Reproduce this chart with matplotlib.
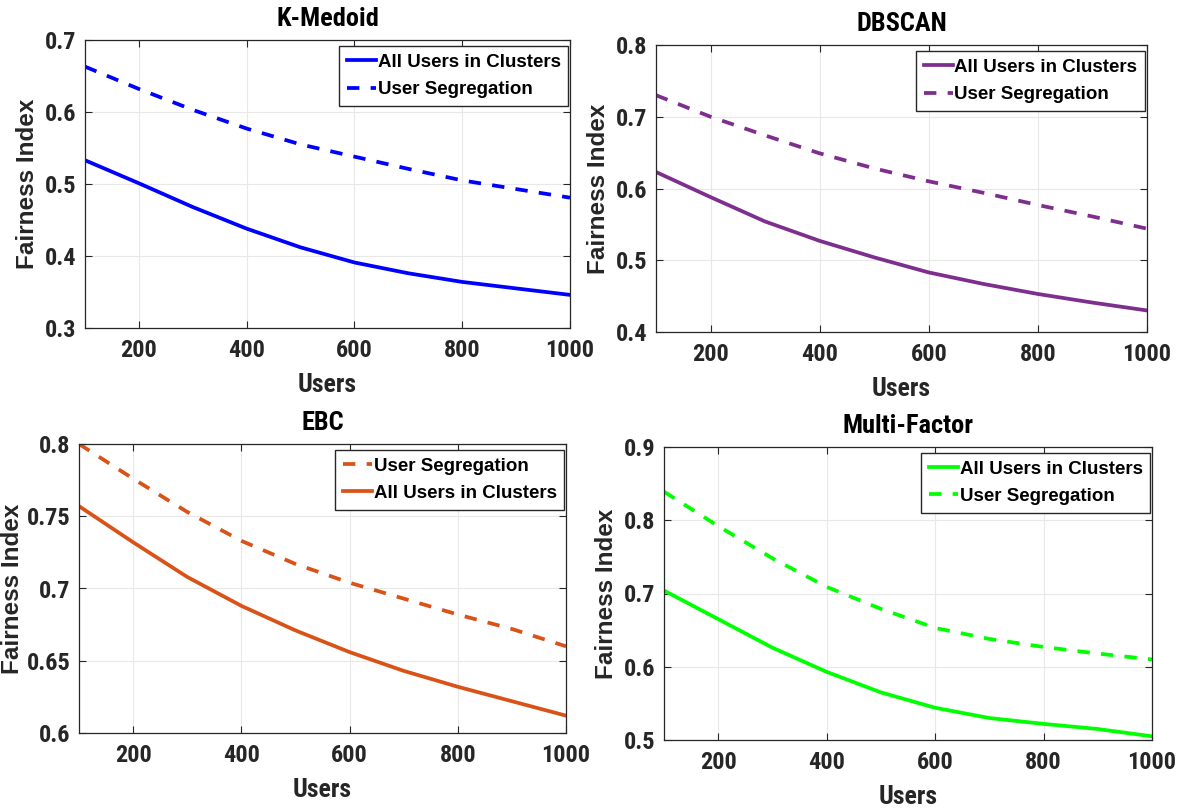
import matplotlib
matplotlib.use('Agg')
import matplotlib.pyplot as plt
import numpy as np

users = [100, 200, 300, 400, 500, 600, 700, 800, 900, 1000]

# fairness index per clustering method
kmedoid_all = [0.533, 0.501, 0.468, 0.438, 0.412, 0.391, 0.376, 0.364, 0.355, 0.346]
kmedoid_seg = [0.663, 0.632, 0.603, 0.577, 0.555, 0.538, 0.521, 0.505, 0.493, 0.481]

dbscan_all = [0.623, 0.588, 0.554, 0.527, 0.504, 0.483, 0.467, 0.453, 0.441, 0.430]
dbscan_seg = [0.730, 0.700, 0.674, 0.649, 0.628, 0.610, 0.594, 0.577, 0.561, 0.544]

ebc_all = [0.757, 0.732, 0.708, 0.688, 0.671, 0.656, 0.643, 0.632, 0.622, 0.612]
ebc_seg = [0.800, 0.776, 0.753, 0.733, 0.717, 0.704, 0.693, 0.682, 0.672, 0.660]

multi_all = [0.704, 0.665, 0.626, 0.593, 0.565, 0.544, 0.530, 0.522, 0.515, 0.505]
multi_seg = [0.839, 0.792, 0.748, 0.709, 0.679, 0.653, 0.638, 0.627, 0.618, 0.610]

narrow = ['Roboto Condensed', 'DejaVu Sans']
wide = ['Liberation Sans', 'DejaVu Sans']
dark = '#262626'

W, H = 1182, 810
fig = plt.figure(figsize=(W / 100, H / 100), dpi=100)


def add_axes(left, top, right, bottom):
    ax = fig.add_axes([left / W, 1 - bottom / H, (right - left) / W, (bottom - top) / H])
    ax.px = (right - left, bottom - top)
    return ax


def style(ax, title, ylim, yticks, ytick_labels):
    ax.set_xlim(100, 1000)
    ax.set_ylim(*ylim)
    ax.set_xticks([200, 400, 600, 800, 1000])
    ax.set_yticks(yticks)
    ax.set_yticklabels(ytick_labels)
    ax.grid(True, color='#e8e8e8', linewidth=0.8)
    ax.set_axisbelow(True)
    ax.tick_params(direction='in', length=5, width=0.8, colors=dark,
                   top=True, right=True, labelsize=17.5)
    ax.tick_params(axis='x', pad=8)
    ax.tick_params(axis='y', pad=6)
    for lab in ax.get_xticklabels() + ax.get_yticklabels():
        lab.set_family(narrow)
        lab.set_fontweight('bold')
    for sp in ax.spines.values():
        sp.set_color(dark)
        sp.set_linewidth(0.9)
    ax.set_title(title, family=narrow, fontweight='bold', fontsize=19, pad=10)
    ax.set_xlabel('Users', family=narrow, fontweight='bold', fontsize=18.5, color=dark, labelpad=8)
    ax.set_ylabel('Fairness Index', family=wide, fontweight='bold', fontsize=17.5, color=dark, labelpad=4)


def legend(ax):
    w, h = ax.px
    leg = ax.legend(loc='upper right', bbox_to_anchor=(1 - 2 / w, 1 - 6 / h),
                    prop={'family': wide, 'weight': 'bold', 'size': 13.5},
                    frameon=True, fancybox=False, framealpha=1, edgecolor=dark,
                    handlelength=1.55, handletextpad=0.1, borderpad=0.4, labelspacing=0.55,
                    borderaxespad=0)
    leg.get_frame().set_linewidth(1.0)


lw = 2.7
dash = (0, (3.3, 3.0))

ax1 = add_axes(85, 40, 570, 328)
ax1.plot(users, kmedoid_all, color='#0000ff', lw=lw, label='All Users in Clusters')
ax1.plot(users, kmedoid_seg, color='#0000ff', lw=lw, ls=dash, label='User Segregation')
style(ax1, 'K-Medoid', (0.3, 0.7), [0.3, 0.4, 0.5, 0.6, 0.7], ['0.3', '0.4', '0.5', '0.6', '0.7'])
legend(ax1)

ax2 = add_axes(656, 45, 1147, 332)
ax2.plot(users, dbscan_all, color='#7e2f8e', lw=lw, label='All Users in Clusters')
ax2.plot(users, dbscan_seg, color='#7e2f8e', lw=lw, ls=dash, label='User Segregation')
style(ax2, 'DBSCAN', (0.4, 0.8), [0.4, 0.5, 0.6, 0.7, 0.8], ['0.4', '0.5', '0.6', '0.7', '0.8'])
legend(ax2)

ax3 = add_axes(79, 444, 566, 733)
ax3.plot(users, ebc_seg, color='#d95319', lw=lw, ls=dash, label='User Segregation')
ax3.plot(users, ebc_all, color='#d95319', lw=lw, label='All Users in Clusters')
style(ax3, 'EBC', (0.6, 0.8), [0.6, 0.65, 0.7, 0.75, 0.8], ['0.6', '0.65', '0.7', '0.75', '0.8'])
ax3.yaxis.labelpad = 2
legend(ax3)

ax4 = add_axes(664, 447, 1152, 740)
ax4.plot(users, multi_all, color='#00ff00', lw=lw, label='All Users in Clusters')
ax4.plot(users, multi_seg, color='#00ff00', lw=lw, ls=dash, label='User Segregation')
style(ax4, 'Multi-Factor', (0.5, 0.9), [0.5, 0.6, 0.7, 0.8, 0.9], ['0.5', '0.6', '0.7', '0.8', '0.9'])
legend(ax4)

fig.savefig('out.png', dpi=100, facecolor='white')
